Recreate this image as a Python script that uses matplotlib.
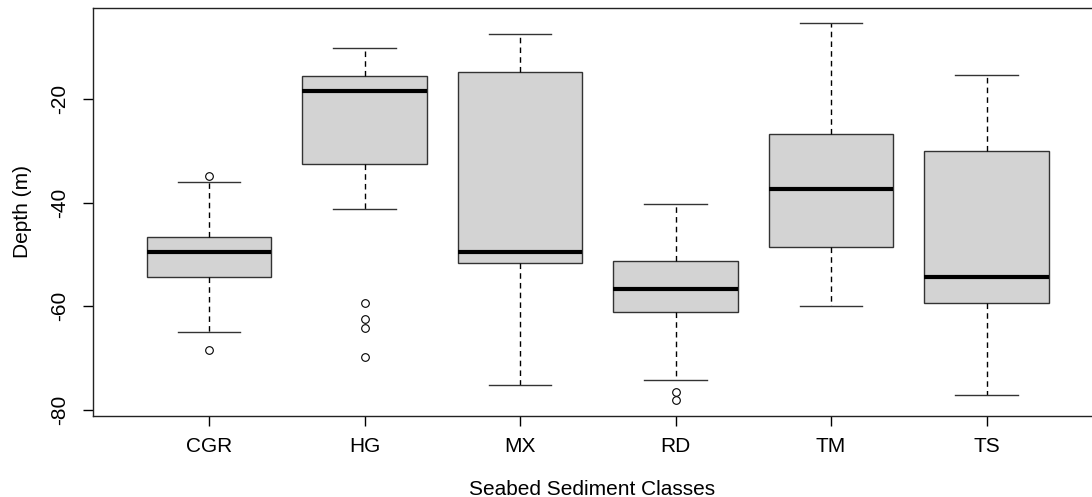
import matplotlib.pyplot as plt

plt.rcParams['font.family'] = ['Liberation Sans', 'DejaVu Sans']

classes = ["CGR", "HG", "MX", "RD", "TM", "TS"]
whisker_low = [-65.0, -41.3, -75.2, -74.2, -60.0, -77.1]
q1 = [-54.4, -32.5, -51.7, -61.0, -48.5, -59.4]
medians = [-49.6, -18.5, -49.6, -56.7, -37.3, -54.4]
q3 = [-46.7, -15.6, -14.8, -51.2, -26.7, -30.0]
whisker_high = [-36.0, -10.2, -7.5, -40.2, -5.4, -15.4]
outliers = [
    [-34.8, -68.5],
    [-59.4, -62.5, -64.2, -69.8],
    [],
    [-76.5, -78.1],
    [],
    [],
]

stats = []
for i, name in enumerate(classes):
    stats.append({
        "label": name,
        "whislo": whisker_low[i],
        "q1": q1[i],
        "med": medians[i],
        "q3": q3[i],
        "whishi": whisker_high[i],
        "fliers": outliers[i],
    })

W, H = 1092, 497
fig = plt.figure(figsize=(W / 100, H / 100), dpi=100)
# right edge of the plot box is cut off in the reference, so let the axes run to the figure edge
ax = fig.add_axes([93 / W, 1 - 416 / H, (W - 93) / W, (416 - 8) / H])

ax.bxp(
    stats,
    positions=range(1, 7),
    widths=0.8,
    patch_artist=True,
    boxprops=dict(facecolor="#d3d3d3", edgecolor="#333333", linewidth=1.0),
    medianprops=dict(color="black", linewidth=3),
    whiskerprops=dict(color="black", linestyle=(0, (4, 3)), linewidth=1.0),
    capprops=dict(color="#333333", linewidth=1.0),
    capwidths=0.4,
    flierprops=dict(marker="o", markerfacecolor="white", markeredgecolor="black",
                    markersize=5.5, markeredgewidth=0.8),
)

ax.set_xlim(0.254, 6.678)
ax.set_ylim(-81.16, -2.44)
ax.set_yticks([-80, -60, -40, -20])
ax.set_yticklabels(["-80", "-60", "-40", "-20"], rotation=90, va="center")
ax.set_xticks(range(1, 7))
ax.set_xticklabels(classes)
ax.tick_params(direction="out", length=7.2, width=1, labelsize=15)
ax.tick_params(axis="x", pad=8)
ax.tick_params(axis="y", pad=10)
ax.spines["right"].set_visible(False)
for s in ["left", "top", "bottom"]:
    ax.spines[s].set_linewidth(1.0)
    ax.spines[s].set_color("#222222")

ax.set_xlabel("Seabed Sediment Classes", fontsize=15, labelpad=17)
ax.set_ylabel("Depth (m)", fontsize=15, labelpad=13)

fig.savefig("out.png", dpi=100)
